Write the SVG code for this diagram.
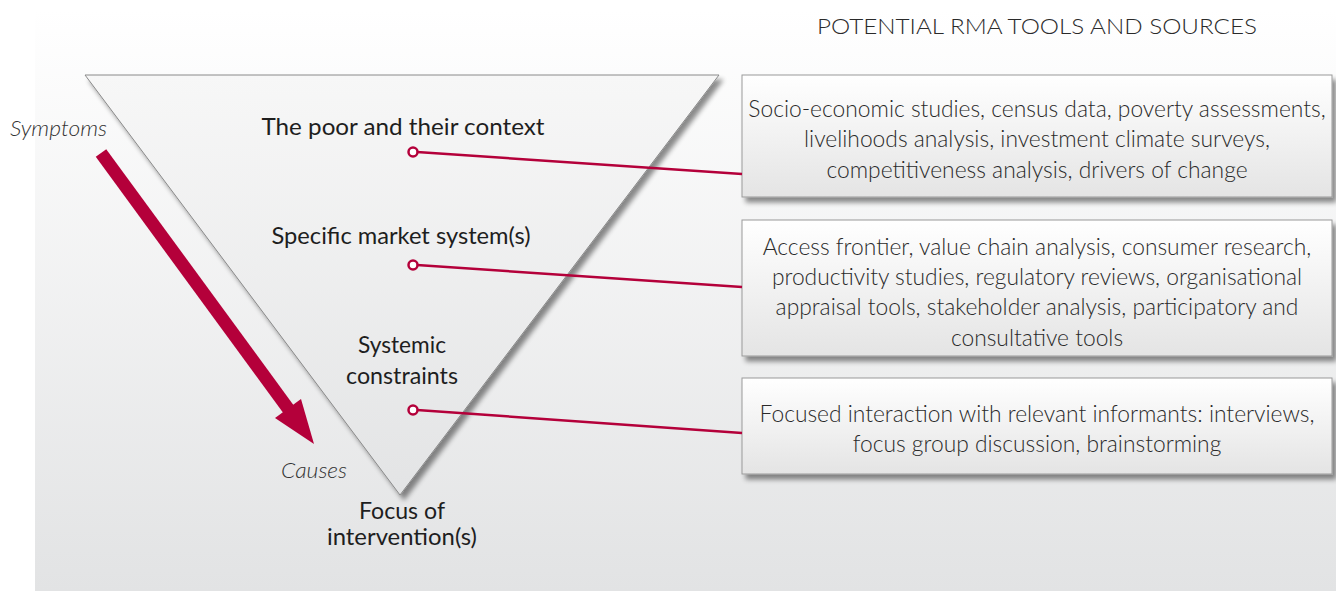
<svg xmlns="http://www.w3.org/2000/svg" width="1336" height="591" viewBox="0 0 1336 591">
<defs>
<linearGradient id="bg" x1="0" y1="0" x2="0" y2="1">
<stop offset="0" stop-color="#ffffff"/><stop offset="1" stop-color="#e2e3e4"/>
</linearGradient>
<linearGradient id="tri" x1="0" y1="0" x2="0" y2="1">
<stop offset="0" stop-color="#f7f7f7"/><stop offset="1" stop-color="#e3e4e5"/>
</linearGradient>
<linearGradient id="box" x1="0" y1="0" x2="0" y2="1">
<stop offset="0" stop-color="#ffffff"/><stop offset="1" stop-color="#e4e4e4"/>
</linearGradient>
<filter id="sh" x="-10%" y="-10%" width="130%" height="130%">
<feGaussianBlur in="SourceAlpha" stdDeviation="2.5"/>
<feOffset dx="4" dy="5"/>
<feComponentTransfer><feFuncA type="linear" slope="0.45"/></feComponentTransfer>
<feMerge><feMergeNode/><feMergeNode in="SourceGraphic"/></feMerge>
</filter>
</defs>
<style>
.lbl{font-family:Lato,"Open Sans",sans-serif;font-size:23px;fill:#1e1e1e;text-anchor:middle}
.it{font-family:Lato,"Open Sans",sans-serif;font-size:21px;font-style:italic;font-weight:300;fill:#333}
.bt{font-family:Lato,"Open Sans",sans-serif;font-size:22.8px;font-weight:300;fill:#2a2a2a;text-anchor:middle}
.bx{fill:url(#box);stroke:#9a9a9a;stroke-width:1}
.con{stroke:#b4003a;stroke-width:2.5;fill:none}
.dot{fill:#fff;stroke:#b4003a;stroke-width:2.5}
</style>
<rect x="0" y="0" width="1336" height="591" fill="#ffffff"/>
<rect x="35" y="10" width="1301" height="581" fill="url(#bg)"/>
<text x="1037" y="34" textLength="440" lengthAdjust="spacingAndGlyphs" style="font-family:Lato,'Open Sans',sans-serif;font-size:21px;font-weight:300;fill:#2a2a2a;text-anchor:middle">POTENTIAL RMA TOOLS AND SOURCES</text>

<g id="triangle">
<polygon points="85,75 719,75 400,495" fill="url(#tri)" stroke="#8a8a8a" stroke-width="1" filter="url(#sh)"/>
<text class="lbl" x="403" y="135" textLength="283" lengthAdjust="spacingAndGlyphs">The poor and their context</text>
<text class="lbl" x="401" y="244" textLength="259" lengthAdjust="spacingAndGlyphs">Specific market system(s)</text>
<text class="lbl" x="402" y="353" textLength="88" lengthAdjust="spacingAndGlyphs">Systemic</text>
<text class="lbl" x="402" y="384" textLength="112" lengthAdjust="spacingAndGlyphs">constraints</text>
</g>
<g id="focus">
<text class="lbl" x="402" y="519" textLength="86" lengthAdjust="spacingAndGlyphs">Focus of</text>
<text class="lbl" x="402" y="545" textLength="150" lengthAdjust="spacingAndGlyphs">intervention(s)</text>
</g>
<g id="symptoms"><text class="it" x="10" y="136" textLength="97" lengthAdjust="spacingAndGlyphs">Symptoms</text></g>
<g id="causes"><text class="it" x="281" y="478" textLength="66" lengthAdjust="spacingAndGlyphs">Causes</text></g>

<g id="arrow">
<line x1="101" y1="153" x2="292" y2="414" stroke="#b4003a" stroke-width="13"/>
<polygon points="314,444 275,418 301,399" fill="#b4003a"/>
</g>

<g id="box1">
<rect class="bx" x="742" y="75" width="590" height="122" filter="url(#sh)"/>
<text class="bt" x="1037" y="117">Socio-economic studies, census data, poverty assessments,</text>
<text class="bt" x="1037" y="147">livelihoods analysis, investment climate surveys,</text>
<text class="bt" x="1037" y="178">competitiveness analysis, drivers of change</text>
</g>
<g id="box2">
<rect class="bx" x="742" y="220" width="590" height="136" filter="url(#sh)"/>
<text class="bt" x="1037" y="255">Access frontier, value chain analysis, consumer research,</text>
<text class="bt" x="1037" y="285">productivity studies, regulatory reviews, organisational</text>
<text class="bt" x="1037" y="315">appraisal tools, stakeholder analysis, participatory and</text>
<text class="bt" x="1037" y="346">consultative tools</text>
</g>
<g id="box3">
<rect class="bx" x="742" y="378" width="590" height="96" filter="url(#sh)"/>
<text class="bt" x="1037" y="422">Focused interaction with relevant informants: interviews,</text>
<text class="bt" x="1037" y="452">focus group discussion, brainstorming</text>
</g>

<g id="connectors">
<line class="con" x1="417" y1="152" x2="742" y2="174"/>
<line class="con" x1="417" y1="265" x2="742" y2="287"/>
<line class="con" x1="417" y1="410" x2="742" y2="433"/>
<circle class="dot" cx="413" cy="152" r="4.5"/>
<circle class="dot" cx="413" cy="265" r="4.5"/>
<circle class="dot" cx="413" cy="410" r="4.5"/>
</g>
</svg>
